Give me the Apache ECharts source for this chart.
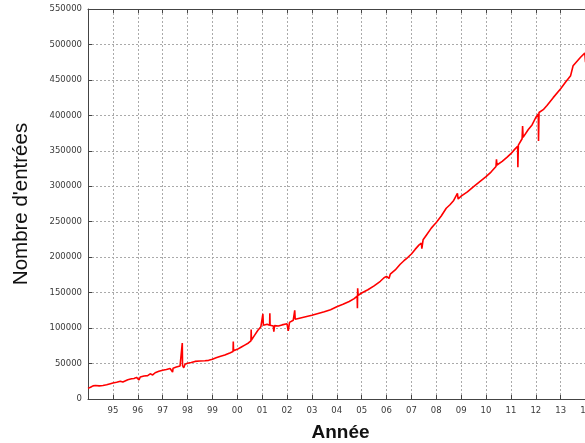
<!DOCTYPE html>
<html>
<head>
<meta charset="utf-8">
<script src="https://cdn.jsdelivr.net/npm/echarts@6/dist/echarts.min.js"></script>
<style>
html,body{margin:0;padding:0;background:#fff;}
#chart{width:585px;height:443px;}
</style>
</head>
<body>
<div id="chart"></div>
<script>
const years = [
1994.00,1994.10,1994.20,1994.30,1994.45,1994.60,1994.75,1994.90,
1995.00,1995.15,1995.30,1995.40,1995.45,1995.60,1995.75,1995.80,1995.85,1995.95,
1996.00,1996.05,1996.10,1996.25,1996.40,1996.50,1996.60,1996.70,1996.85,
1997.00,1997.15,1997.30,1997.40,1997.42,1997.55,1997.70,1997.78,1997.79,1997.80,1997.85,1997.90,
1998.00,1998.15,1998.30,1998.50,1998.70,1998.85,
1999.00,1999.15,1999.30,1999.50,1999.70,1999.83,1999.84,1999.85,
2000.00,2000.15,2000.30,2000.45,2000.55,2000.56,2000.57,2000.70,2000.83,2000.95,
2001.00,2001.03,2001.05,2001.20,2001.30,2001.31,2001.32,2001.45,2001.47,2001.50,2001.65,2001.80,
2002.00,2002.05,2002.10,2002.25,2002.30,2002.31,2002.33,2002.50,2002.75,
2003.00,2003.25,2003.50,2003.75,
2004.00,2004.25,2004.50,2004.70,2004.82,2004.83,2004.84,2004.86,
2005.00,2005.25,2005.50,2005.75,2005.90,
2006.00,2006.10,2006.15,2006.35,2006.55,2006.70,2006.85,
2007.00,2007.15,2007.30,2007.40,2007.42,2007.47,2007.60,2007.80,2007.90,
2008.00,2008.20,2008.40,2008.55,2008.70,2008.85,2008.88,
2009.00,2009.25,2009.50,2009.75,
2010.00,2010.20,2010.40,2010.42,2010.44,2010.65,2010.85,
2011.00,2011.15,2011.27,2011.28,2011.30,2011.45,2011.47,2011.49,2011.70,2011.85,
2012.00,2012.10,2012.11,2012.13,2012.30,2012.45,2012.70,
2013.00,2013.20,2013.40,2013.45,2013.50,2013.65,2013.80,2013.97,2014.00
];
const entries = [
15000,16500,18500,19000,18500,19000,20000,21500,
22500,23500,25000,24000,26500,27000,28500,26000,29000,30500,
29500,27000,31000,32500,33000,35500,34000,37000,39000,
40500,41500,43000,38000,43500,45000,46500,47500,79000,47000,44000,49000,
50500,51500,53000,53500,54000,54500,
56000,58000,60000,62000,65000,67000,81000,68000,
70000,73000,76000,79000,82000,98000,83000,90000,97000,102000,
103500,120000,104000,105500,104000,121000,104000,103000,95000,103500,103000,104500,
106000,96000,108000,111000,112000,125000,112500,114000,116000,
118000,120500,123000,126000,
130000,133500,137500,141500,145000,128000,156000,146000,
149500,154000,159500,166000,171000,
173000,170000,176000,182000,190000,195000,199500,
204500,211000,217000,220000,212000,224500,231000,241000,245000,
249000,258000,269000,274000,280000,290000,282000,
286000,292000,299500,306500,
313500,320000,328000,338000,330000,335000,341000,
346000,352000,356500,327000,358000,367000,385000,369000,380000,386500,
397000,402000,364000,404000,408000,414000,425000,
437500,447000,456000,458000,470000,476000,482000,488000,475000
];
const yearLabels = {1995:'95',1996:'96',1997:'97',1998:'98',1999:'99',2000:'00',2001:'01',2002:'02',2003:'03',2004:'04',2005:'05',2006:'06',2007:'07',2008:'08',2009:'09',2010:'10',2011:'11',2012:'12',2013:'13',2014:'14'};

const chart = echarts.init(document.getElementById('chart'), null, {renderer:'canvas'});
const data = years.map((y,i)=>[y, entries[i]]);
const lblFont = {fontFamily:'DejaVu Sans', fontSize:8.5, color:'#3a3a3a'};
const gridLine = {show:true, lineStyle:{color:'#aaa', type:[2,2], width:1}};
chart.setOption({
  animation:false,
  backgroundColor:'#fff',
  grid:{left:88, top:9, width:505, height:390, containLabel:false, outerBoundsMode:'none'},
  xAxis:[{
    type:'value', min:1994, max:2014.3, interval:1,
    axisLine:{show:true, lineStyle:{color:'#444', width:1}},
    axisTick:{show:true, inside:true, length:4, lineStyle:{color:'#444'}},
    axisLabel:Object.assign({margin:7, showMinLabel:false, showMaxLabel:false, hideOverlap:false,
      formatter:v=>yearLabels[Math.round(v)]||''}, lblFont),
    splitLine:gridLine,
    name:'Année', nameLocation:'middle', nameGap:24,
    nameTextStyle:{fontFamily:'Liberation Sans', fontSize:19, fontWeight:'bold', color:'#111'}
  },{
    type:'value', position:'top', min:1994, max:2014.3, interval:1,
    axisLine:{show:true, lineStyle:{color:'#444', width:1}},
    axisTick:{show:true, inside:true, length:4, lineStyle:{color:'#444'}},
    axisLabel:{show:false}, splitLine:{show:false}
  }],
  yAxis:{
    type:'value', min:0, max:550000, interval:50000,
    axisLine:{show:true, lineStyle:{color:'#444', width:1}},
    axisTick:{show:true, inside:true, length:4, lineStyle:{color:'#444'}},
    axisLabel:Object.assign({margin:6, formatter:v=>String(v)}, lblFont),
    splitLine:gridLine,
    name:"Nombre d'entrées", nameLocation:'middle', nameGap:56, nameRotate:90,
    nameTextStyle:{fontFamily:'Liberation Sans', fontSize:20.5, color:'#111'}
  },
  series:[{
    type:'line', data:data, showSymbol:false, xAxisIndex:0,
    lineStyle:{color:'#ff0000', width:1.6}, itemStyle:{color:'#ff0000'}
  }]
});
</script>
</body>
</html>
